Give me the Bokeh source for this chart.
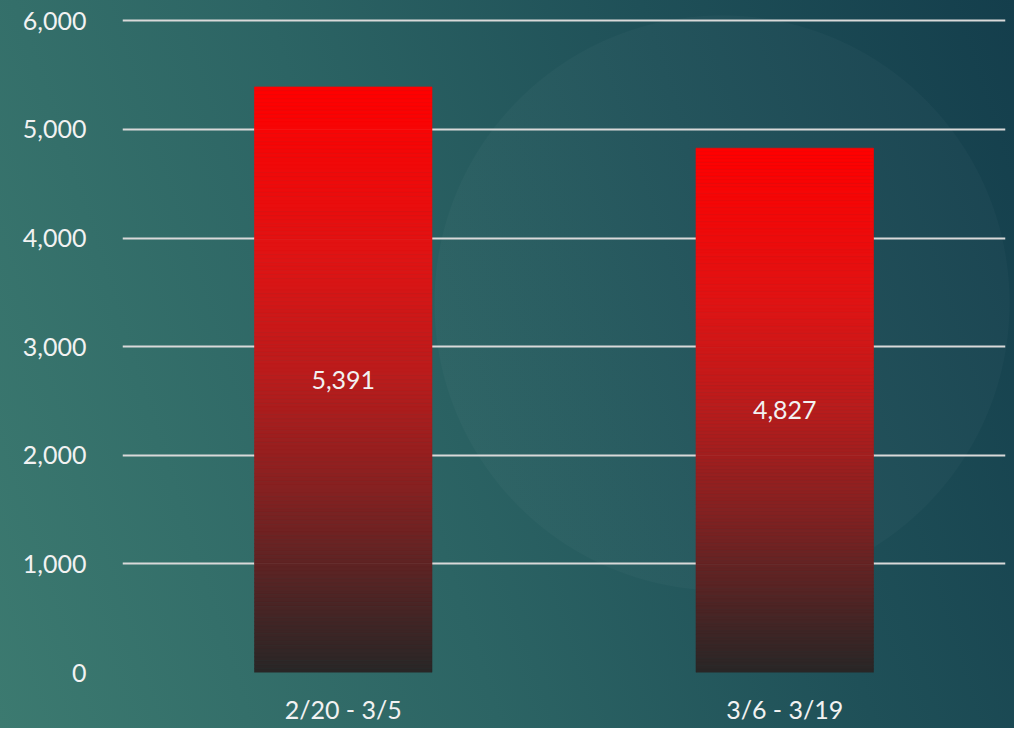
from bokeh.plotting import figure
from bokeh.models import Range1d, FactorRange, NumeralTickFormatter, FixedTicker, ColumnDataSource
from bokeh.core.properties import value
from bokeh.embed import file_html
from bokeh.resources import INLINE

categories = ["2/20 - 3/5", "3/6 - 3/19"]
values = [5391, 4827]
value_labels = ["5,391", "4,827"]
y_ticks = [0, 1000, 2000, 3000, 4000, 5000, 6000]

FONT = "Lato"
TXT = "#f2f2f2"

# gradient stops for bar fill: (fraction from top, rgb)
stops = [(0.0, (255, 0, 0)), (0.30, (222, 20, 20)), (0.50, (184, 28, 28)),
         (0.70, (130, 33, 33)), (0.85, (84, 36, 36)), (1.0, (40, 38, 38))]


def grad(t):
    for (t0, c0), (t1, c1) in zip(stops[:-1], stops[1:]):
        if t0 <= t <= t1:
            f = (t - t0) / (t1 - t0)
            return "#%02x%02x%02x" % tuple(int(round(a + (b - a) * f)) for a, b in zip(c0, c1))
    return "#%02x%02x%02x" % stops[-1][1]


p = figure(width=1014, height=728, x_range=FactorRange(*categories, range_padding=0),
           y_range=Range1d(0, 6030), output_backend="svg", toolbar_location=None,
           min_border_left=122, min_border_right=9, min_border_top=17, min_border_bottom=56)

p.styles = {
    "background": "radial-gradient(circle at 722px 303px, rgba(255,255,255,0.025) 287px, rgba(255,255,255,0) 288px), "
                  "linear-gradient(72deg, #3c7a70 0%, #2c6464 40%, #1f5058 70%, #143e4c 100%)"
}
p.border_fill_color = None
p.background_fill_color = None
p.outline_line_color = None

# grid
p.xgrid.grid_line_color = None
p.ygrid.grid_line_color = "#d9d9d9"
p.ygrid.grid_line_width = 2

# axes
p.yaxis.ticker = FixedTicker(ticks=y_ticks)
p.yaxis.formatter = NumeralTickFormatter(format="0,0")
for ax in (p.xaxis, p.yaxis):
    ax.axis_line_color = None
    ax.major_tick_line_color = None
    ax.minor_tick_line_color = None
    ax.major_label_text_color = TXT
    ax.major_label_text_font = FONT
    ax.major_label_text_font_size = "25px"
p.yaxis.major_label_standoff = 30
p.xaxis.major_label_standoff = 15

# gradient bars built from slices
N = 150
xs, bottoms, tops, colors = [], [], [], []
for cat, v in zip(categories, values):
    for i in range(N):
        t = i / N
        xs.append(cat)
        tops.append(v * (1 - i / N))
        bottoms.append(v * (1 - (i + 1) / N))
        colors.append(grad(t + 0.5 / N))
src = ColumnDataSource(dict(x=xs, bottom=bottoms, top=tops, color=colors))
p.vbar(x="x", bottom="bottom", top="top", width=0.402, fill_color="color",
       line_color="color", line_width=0.6, source=src)

lab = ColumnDataSource(dict(x=categories, y=[v / 2 for v in values], t=value_labels))
p.text(x="x", y="y", text="t", source=lab, text_align="center", text_baseline="middle",
       text_color=TXT, text_font=value(FONT), text_font_size="25px")

open("out.html", "w").write(file_html(p, INLINE))
